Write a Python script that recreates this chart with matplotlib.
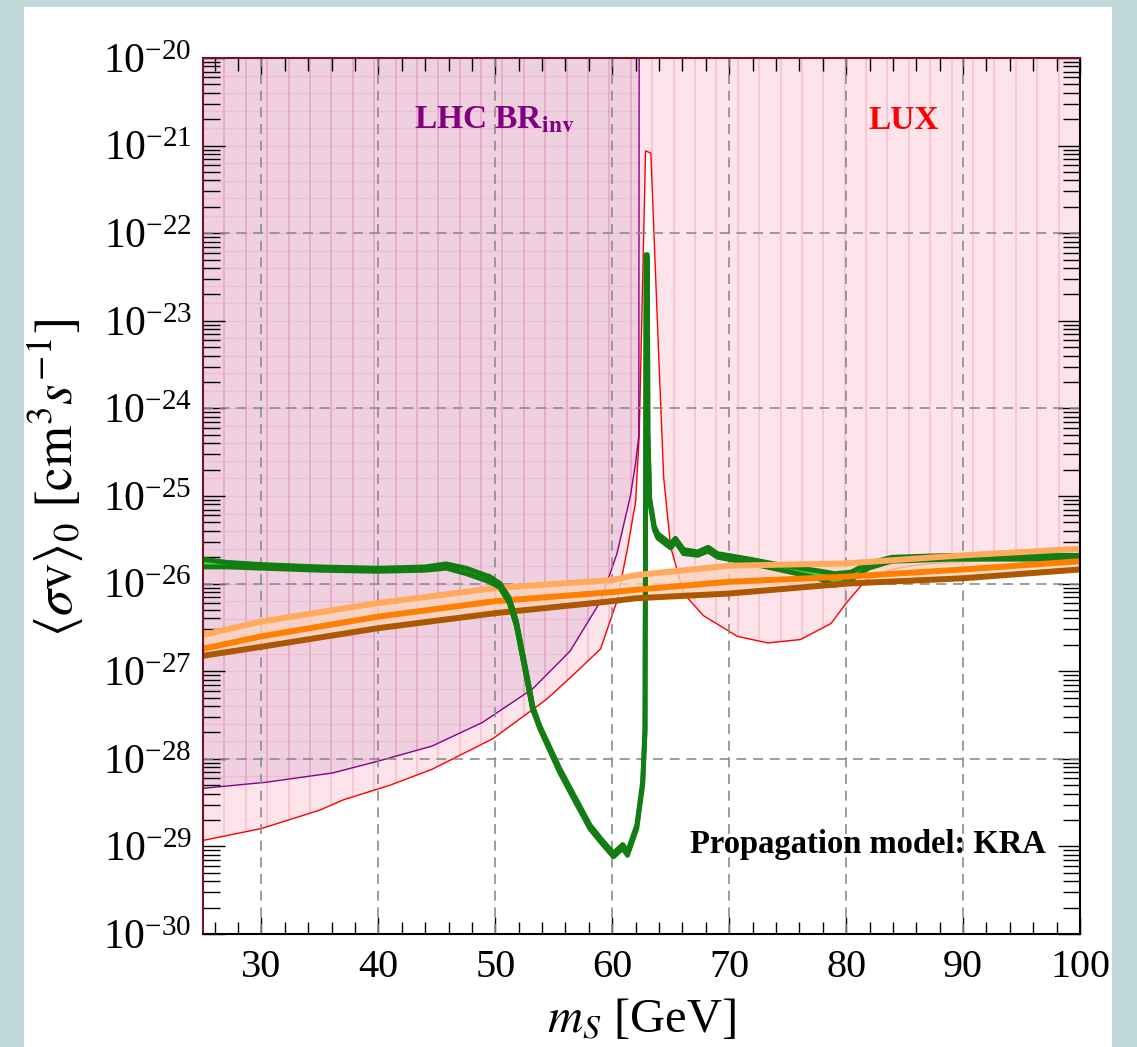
import numpy as np
import matplotlib
matplotlib.use('Agg')
import matplotlib.pyplot as plt
from matplotlib.ticker import LogLocator, NullFormatter, MultipleLocator, FixedLocator
from matplotlib.patches import Rectangle

plt.rcParams['font.family'] = ['Liberation Serif', 'DejaVu Serif']
plt.rcParams['mathtext.fontset'] = 'stix'

# ---------------- data ----------------
# LHC invisible width bound (purple)
lhc_x = [25, 30.4, 36.1, 40.1, 44.6, 48.9, 53.2, 56.4, 59.0, 60.4, 61.55, 62.0, 62.27, 62.3]
lhc_y = [4.6e-29, 5.4e-29, 6.9e-29, 9.5e-29, 1.4e-28, 2.6e-28, 6.3e-28, 1.7e-27, 6.3e-27,
         2.2e-26, 1.0e-25, 2.4e-25, 4.8e-25, 1e-20]

# LUX bound (red)
lux_x = [25, 30, 35, 37, 41, 44.6, 49.8, 54.4, 57.0, 59.0, 60.4, 61.3, 62.0, 62.3, 62.85, 63.3,
         64.0, 64.4, 65.0, 66.1, 67.8, 70.7, 73.3, 76.1, 78.7, 80.1, 81.7, 83.9, 85.6, 87.6, 100]
lux_y = [1.17e-29, 1.6e-29, 2.6e-29, 3.4e-29, 5e-29, 7.6e-29, 1.7e-28, 4.8e-28, 1.0e-27, 1.8e-27,
         6.3e-27, 2.5e-26, 8.7e-26, 4.8e-25, 8.7e-22, 8.2e-22,
         3.2e-24, 1.6e-25, 2.6e-26, 7.7e-27, 4.3e-27, 2.5e-27, 2.1e-27, 2.3e-27, 3.5e-27, 6.2e-27,
         1.1e-26, 1.45e-26, 1.6e-26, 1.7e-26, 2.1e-26]

# relic-density band (green)
grn_x = [25, 27, 30, 35, 40, 44, 45.8, 47.5, 49.5, 50.4, 51.2, 51.8, 52.7, 53.2, 53.8, 54.7, 55.5,
         56.7, 58.1, 59.2, 60.1, 60.9, 61.3, 62.1, 62.6, 62.8, 62.9, 63.0, 63.05, 63.2, 63.6, 63.9,
         65.0, 65.4, 66.1, 67.3, 68.2, 69.0, 71.8, 74.7, 77.6, 79.0, 80.4, 81.9, 83.9, 89, 100]
grn_lo = [1.55e-26, 1.55e-26, 1.5e-26, 1.42e-26, 1.38e-26, 1.42e-26, 1.5e-26, 1.3e-26, 1.05e-26,
          9.0e-27, 6.0e-27, 3.3e-27, 8.0e-28, 3.6e-28, 2.2e-28, 1.2e-28, 7.0e-29,
          3.5e-29, 1.58e-29, 1.05e-29, 7.6e-30, 9.5e-30, 7.9e-30, 1.6e-29, 5.0e-29, 2.0e-28,
          5.3e-23, 5.3e-23, 5.0e-25, 8.5e-26, 4.1e-26, 3.3e-26,
          2.55e-26, 3.0e-26, 2.2e-26, 2.1e-26, 2.35e-26, 2.0e-26, 1.7e-26, 1.4e-26, 1.15e-26,
          9.5e-27, 1.1e-26, 1.5e-26, 1.8e-26, 1.9e-26, 1.9e-26]
grn_hi = [1.9e-26, 1.75e-26, 1.65e-26, 1.55e-26, 1.5e-26, 1.55e-26, 1.68e-26, 1.5e-26, 1.2e-26,
          1.0e-26, 6.8e-27, 3.7e-27, 9.0e-28, 4.0e-28, 2.4e-28, 1.32e-28, 7.8e-29,
          3.9e-29, 1.75e-29, 1.15e-29, 8.4e-30, 1.05e-29, 8.7e-30, 1.75e-29, 5.5e-29, 2.2e-28,
          5.7e-23, 5.7e-23, 5.5e-25, 9.5e-26, 4.5e-26, 3.7e-26,
          2.85e-26, 3.3e-26, 2.45e-26, 2.3e-26, 2.6e-26, 2.2e-26, 1.9e-26, 1.6e-26, 1.4e-26,
          1.3e-26, 1.35e-26, 1.7e-26, 2.0e-26, 2.1e-26, 2.1e-26]

# Fermi dwarf limits (orange family)
org_x = [25, 30, 40, 50, 60, 62, 70, 80, 90, 100]
org_light = [2.6e-27, 3.7e-27, 6e-27, 8.9e-27, 1.1e-26, 1.25e-26, 1.6e-26, 1.7e-26, 2.1e-26, 2.5e-26]
org_mid = [1.8e-27, 2.5e-27, 4.2e-27, 6.3e-27, 8e-27, 8.5e-27, 1.05e-26, 1.2e-26, 1.45e-26, 1.8e-26]
org_dark = [1.5e-27, 1.9e-27, 3.1e-27, 4.6e-27, 6.3e-27, 6.8e-27, 7.7e-27, 1e-26, 1.15e-26, 1.45e-26]

xticks = [30, 40, 50, 60, 70, 80, 90, 100]
yticks = [1e-30, 1e-29, 1e-28, 1e-27, 1e-26, 1e-25, 1e-24, 1e-23, 1e-22, 1e-21, 1e-20]
ymin, ymax = 1e-30, 1e-20

# ---------------- figure ----------------
fig = plt.figure(figsize=(11.37, 10.47), dpi=100, facecolor='#c0d8da')
fig.patches.append(Rectangle((24/1137, 0), (1112-24)/1137, 1-7/1047, transform=fig.transFigure,
                             facecolor='white', edgecolor='none', zorder=-10))
ax = fig.add_axes([203/1137, 1-934/1047, (1080-203)/1137, (934-58)/1047])
ax.set_facecolor('white')
ax.set_yscale('log')
ax.set_xlim(25, 100)
ax.set_ylim(ymin, ymax)

# LUX excluded region
lux_fill = ax.fill_between(lux_x, lux_y, ymax, color='#fce4ea', lw=0, zorder=1)
# LHC excluded region
lhc_fill = ax.fill_between(lhc_x, lhc_y, ymax, color='#eed0df', lw=0, zorder=1.2)

# mesh texture of the shaded regions
mesh_x = 25 + np.arange(1, 41) * 75 / 41
lux_path = lux_fill.get_paths()[0]
lhc_path = lhc_fill.get_paths()[0]
for mx in mesh_x:
    l1 = ax.plot([mx, mx], [ymin, ymax], color='#f5c3cf', lw=1.2, zorder=1.1)[0]
    l1.set_clip_path(lux_path, ax.transData)
    l2 = ax.plot([mx, mx], [ymin, ymax], color='#e7a8c3', lw=1.2, zorder=1.3)[0]
    l2.set_clip_path(lhc_path, ax.transData)
for e in np.arange(-20.2, -30, -0.2):
    l3 = ax.plot([25, 100], [10**e, 10**e], color='#efbcd8', lw=1.0, zorder=1.25)[0]
    l3.set_clip_path(lhc_path, ax.transData)

ax.plot(lux_x, lux_y, color='#ff0000', lw=1.0, zorder=1.5)
ax.plot(lhc_x, lhc_y, color='#8b008b', lw=1.0, zorder=1.5)

# dashed grid
for gx in xticks[:-1]:
    ax.axvline(gx, color='#8c8c8c', lw=1.2, ls=(0, (6, 4)), zorder=2)
for gy in [1e-22, 1e-24, 1e-26, 1e-28]:
    ax.axhline(gy, color='#8c8c8c', lw=1.2, ls=(0, (6, 4)), zorder=2)

# orange band fill (under the green band)
ax.fill_between(org_x, org_dark, org_light, color='#fbd3bb', alpha=0.8, lw=0, zorder=2.5)

# green band
ax.fill_between(grn_x, grn_lo, grn_hi, color='#3fcf3f', lw=0, zorder=3)
ax.plot(grn_x, grn_lo, color='#127d12', lw=3.5, zorder=3.1, solid_joinstyle='round')
ax.plot(grn_x, grn_hi, color='#127d12', lw=3.5, zorder=3.1, solid_joinstyle='round')

# orange lines
ax.plot(org_x, org_light, color='#ffaa5c', lw=4.3, zorder=4)
ax.plot(org_x, org_mid, color='#ff7f00', lw=4.3, zorder=4)
ax.plot(org_x, org_dark, color='#ad5700', lw=4.3, zorder=4)

# descending green segment drawn above the orange lines
sel = slice(8, 14)
ax.plot(grn_x[sel], grn_lo[sel], color='#127d12', lw=3.5, zorder=4.5)
ax.plot(grn_x[sel], grn_hi[sel], color='#127d12', lw=3.5, zorder=4.5)

# labels inside
ax.text(49.9, 1.95e-21, r'LHC BR$_{\mathbf{inv}}$', color='#800080', fontsize=24,
        fontweight='bold', ha='center', va='center', zorder=6)
ax.text(84.9, 1.95e-21, 'LUX', color='#ff0000', fontsize=24, fontweight='bold',
        ha='center', va='center', zorder=6)
ax.text(81.9, 1.05e-29, 'Propagation model: KRA', color='black', fontsize=23.5,
        fontweight='bold', ha='center', va='center', zorder=6)

# axes styling
ax.xaxis.set_major_locator(FixedLocator(xticks))
ax.xaxis.set_minor_locator(MultipleLocator(2))
ax.yaxis.set_major_locator(FixedLocator(yticks))
ax.yaxis.set_minor_locator(LogLocator(base=10, subs=np.arange(2, 10), numticks=100))
ax.yaxis.set_minor_formatter(NullFormatter())
ax.tick_params(axis='x', which='major', direction='in', length=12, width=1.0, top=True,
               labelsize=29, pad=11)
ax.tick_params(axis='x', which='minor', direction='in', length=9, width=1.0, top=True)
ax.tick_params(axis='y', which='major', direction='in', length=16, width=1.0, right=True,
               labelsize=30, pad=8)
ax.tick_params(axis='y', which='minor', direction='in', length=12, width=1.0, right=True)
for s in ax.spines.values():
    s.set_linewidth(1.5)
    s.set_zorder(7)
ax.spines['top'].set_color('#7a1020')
ax.spines['left'].set_color('#7a1020')

ax.set_xlabel(r'$m_S$ [GeV]', fontsize=35, labelpad=8)
ax.set_ylabel(r'$\langle\sigma{\rm v}\rangle_0\ [{\rm cm}^3 s^{-1}]$', fontsize=38)
ax.yaxis.set_label_coords(-0.134, 0.52)

fig.savefig('out.png', dpi=100, facecolor=fig.get_facecolor())
